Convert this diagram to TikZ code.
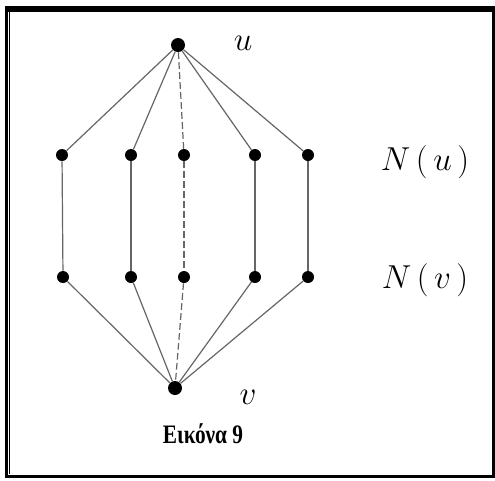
\documentclass[tikz,border=0pt]{standalone}
\usepackage{fontspec}
\usepackage{graphicx}
\newfontfamily\captfont{Liberation Serif}
\begin{document}
\begin{tikzpicture}[x=0.75pt,y=-0.75pt,
  vtx/.style={circle,fill=black,inner sep=0pt,minimum size=9pt},
  bigvtx/.style={vtx,minimum size=10.5pt},
  edge/.style={draw=black!60,line width=0.9pt},
  midedge/.style={edge,dash pattern=on 5pt off 2.5pt},
  lbl/.style={inner sep=0pt,font=\fontsize{24}{28}\selectfont},
  capt/.style={inner sep=0pt,font=\captfont\bfseries\fontsize{20}{24}\selectfont}]
\useasboundingbox (0,0) rectangle (495,480);
\fill[white] (0,0) rectangle (495,480);
% frame
\fill[black] (5,6) rectangle (495,12);
\fill[black] (5,6) rectangle (7.5,478);
\fill[black] (9,12) rectangle (10.2,474);
\fill[black] (5,474.5) rectangle (495,478);
\fill[black] (491.5,6) rectangle (495,478);
% vertices
\node[bigvtx] (u) at (178,45) {};
\node[bigvtx] (v) at (175,388) {};
\node[vtx] (a1) at (62,155) {};
\node[vtx] (a2) at (131,155) {};
\node[vtx] (a3) at (184,155) {};
\node[vtx] (a4) at (255,155) {};
\node[vtx] (a5) at (308,155) {};
\node[vtx] (b1) at (63,277) {};
\node[vtx] (b2) at (131,277) {};
\node[vtx] (b3) at (184,277) {};
\node[vtx] (b4) at (255,277) {};
\node[vtx] (b5) at (308,277) {};
% edges
\foreach \i in {1,2,4,5} {
  \draw[edge] (u) -- (a\i);
  \draw[edge] (a\i) -- (b\i);
  \draw[edge] (b\i) -- (v);
}
\draw[midedge] (u) -- (a3);
\draw[midedge] (a3) -- (b3);
\draw[midedge] (b3) -- (v);
% labels
\node[lbl] (lu) at (243,43) {$u$};
\node[lbl] (lv) at (248,397) {$v$};
\node[lbl] (lNu) at (425,162) {$N\mkern3mu(\mkern3mu u\mkern3mu)$};
\node[lbl] (lNv) at (425,280) {$N\mkern3mu(\mkern3mu v\mkern3mu)$};
\node[capt] (cap) at (203,434) {\scalebox{0.8}[1]{Εικόνα 9}};
\end{tikzpicture}
\end{document}
